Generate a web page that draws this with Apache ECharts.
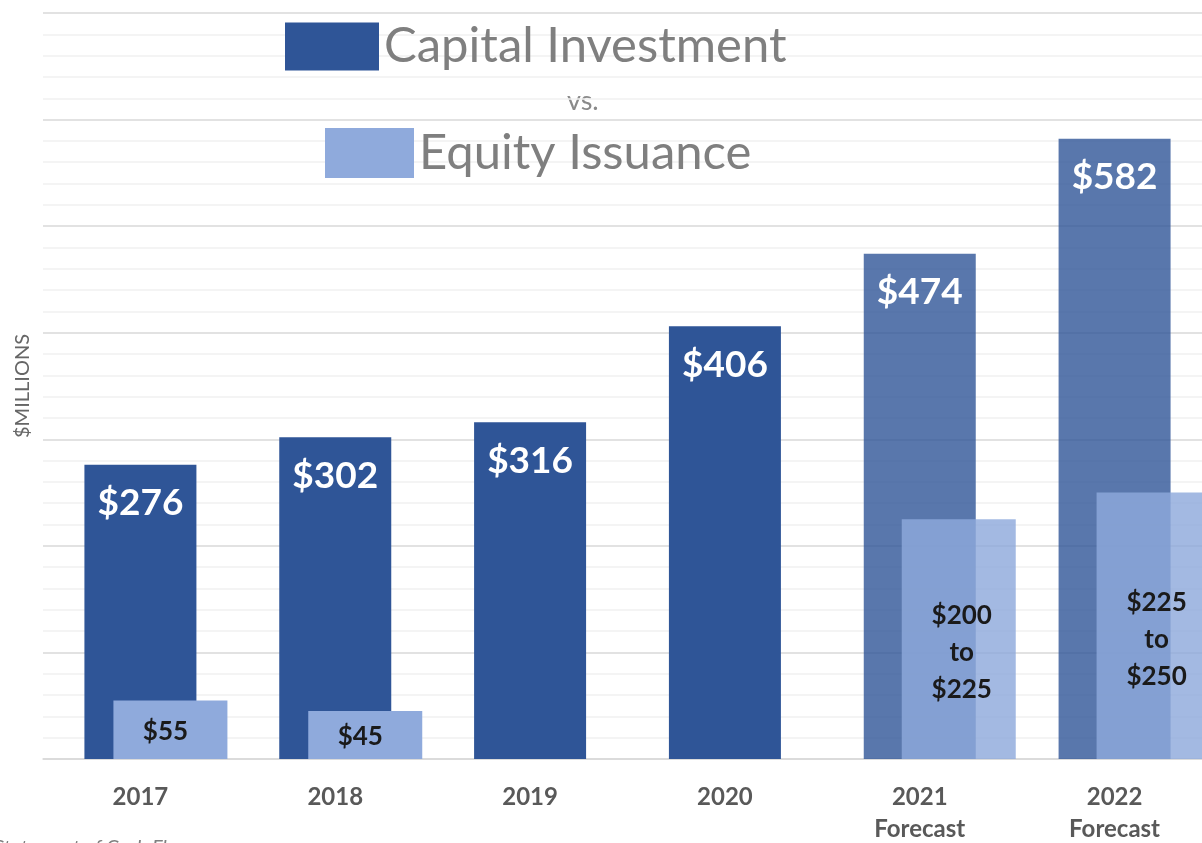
<!DOCTYPE html>
<html>
<head>
<meta charset="utf-8">
<script src="https://cdn.jsdelivr.net/npm/echarts@6/dist/echarts.min.js"></script>
<style>
  html, body { margin: 0; padding: 0; background: #fff; }
  #main { width: 1202px; height: 843px; }
</style>
</head>
<body>
<div id="main"></div>
<script>
// 类目和数据
const years = ['2017', '2018', '2019', '2020', '2021\nForecast', '2022\nForecast']
const isForecast = [false, false, false, false, true, true]
const capital = [276, 302, 316, 406, 474, 582]
const equityLow = [null, null, null, null, 200, 225]
const equityHigh = [55, 45, null, null, 225, 250]
const yTicks = [0, 700, 20]   // min, max, interval

const DARK = '#2F5597'
const LIGHT = '#8FAADC'
const FONT = 'Lato'

// 预测年份用半透明
const capitalData = capital.map((v, i) => isForecast[i]
  ? { value: v, itemStyle: { color: 'rgba(47,85,151,0.8)' } }
  : v)
const equityActual = equityHigh.map((v, i) => (!isForecast[i] && v != null) ? v : '-')
const equityFcst = equityHigh.map((v, i) => (isForecast[i] && v != null) ? v : '-')

function equityLabel(p) {
  let lo = equityLow[p.dataIndex]
  let hi = equityHigh[p.dataIndex]
  return lo != null ? '$' + lo + '\nto\n$' + hi : '$' + hi
}

let myChart = echarts.init(document.getElementById('main'))

const gridBase = { top: 13, bottom: 84, width: 1169, containLabel: false, outerBoundsMode: 'none' }
const hiddenY = (idx) => ({ type: 'value', gridIndex: idx, min: yTicks[0], max: yTicks[1], interval: yTicks[2], show: false })
const hiddenX = (idx) => ({ type: 'category', gridIndex: idx, data: years, show: false })

myChart.setOption({
  animation: false,
  textStyle: { fontFamily: FONT },
  grid: [
    Object.assign({ left: 43 }, gridBase),
    Object.assign({ left: 73 }, gridBase),
    Object.assign({ left: 82 }, gridBase)
  ],
  legend: [{
    left: 285, top: 22, padding: 0,
    data: ['Capital Investment'],
    icon: 'rect', itemWidth: 94, itemHeight: 48,
    selectedMode: false,
    itemStyle: { borderWidth: 0 },
    textStyle: { fontFamily: FONT, fontSize: 49, color: '#7f7f7f', padding: [7, 0, 0, 0] }
  }, {
    left: 325, top: 128, padding: 0,
    data: ['Equity Issuance'],
    icon: 'rect', itemWidth: 89, itemHeight: 50,
    selectedMode: false,
    itemStyle: { borderWidth: 0, color: LIGHT },
    textStyle: { fontFamily: FONT, fontSize: 49, color: '#7f7f7f', padding: [6, 0, 0, 0] }
  }],
  graphic: [{
    type: 'text', left: 567, top: 88,
    style: { text: 'vs.', fontFamily: FONT, fontSize: 27, fill: '#8a8a8a' }
  }, {
    type: 'text', left: -6, top: 838,
    style: { text: 'Statement of Cash Flows', fontFamily: FONT, fontSize: 20, fontStyle: 'italic', fill: '#7f7f7f' }
  }],
  xAxis: [{
    type: 'category', gridIndex: 0, data: years,
    axisLine: { lineStyle: { color: '#d9d9d9', width: 1.5 } },
    axisTick: { show: false },
    axisLabel: { margin: 22, fontFamily: FONT, fontSize: 24, fontWeight: 'bold', color: '#595959', lineHeight: 32 }
  }, hiddenX(1), hiddenX(2)],
  yAxis: [{
    type: 'value', gridIndex: 0, min: yTicks[0], max: yTicks[1], interval: yTicks[2],
    name: '$MILLIONS', nameLocation: 'middle', nameGap: 10,
    nameTextStyle: { fontFamily: FONT, fontSize: 20, color: '#666' },
    axisLine: { show: false },
    axisTick: { show: false },
    axisLabel: { show: false },
    splitLine: { lineStyle: { color: ['#d9d9d9', '#f0f0f0', '#f0f0f0', '#f0f0f0', '#f0f0f0'], width: 1.5 } }
  }, hiddenY(1), hiddenY(2)],
  series: [{
    name: 'Capital Investment', type: 'bar',
    xAxisIndex: 0, yAxisIndex: 0,
    barWidth: 112,
    itemStyle: { color: DARK },
    label: {
      show: true, position: 'insideTop', distance: 20,
      formatter: (p) => '$' + p.value,
      fontFamily: FONT, fontSize: 37, fontWeight: 'bold', color: '#fff'
    },
    data: capitalData
  }, {
    name: 'Equity Issuance', type: 'bar',
    xAxisIndex: 1, yAxisIndex: 1,
    barWidth: 114,
    itemStyle: { color: LIGHT },
    label: {
      show: true, position: 'inside', offset: [-5, 2], formatter: equityLabel,
      fontFamily: FONT, fontSize: 26, fontWeight: 'bold', color: '#1a1a1a'
    },
    data: equityActual
  }, {
    name: 'Equity Issuance', type: 'bar',
    xAxisIndex: 2, yAxisIndex: 2,
    barWidth: 114,
    itemStyle: { color: 'rgba(143,170,220,0.82)' },
    label: {
      show: true, position: 'inside', offset: [3, 14], formatter: equityLabel,
      fontFamily: FONT, fontSize: 26, fontWeight: 'bold', color: '#1a1a1a', lineHeight: 37
    },
    data: equityFcst
  }]
})
</script>
</body>
</html>
